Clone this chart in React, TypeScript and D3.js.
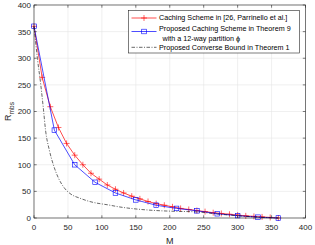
import React from 'react';
import * as d3 from 'd3';

const W = 315, H = 245;
const M = { top: 5, right: 9.5, bottom: 27, left: 34 };

const X_TICKS = [0, 50, 100, 150, 200, 250, 300, 350, 400];
const Y_TICKS = [0, 50, 100, 150, 200, 250, 300, 350, 400];

// Caching Scheme in [26, Parrinello et al.]
const redM = [0, 12, 24, 36, 48, 60, 72, 84, 96, 108, 120, 132, 144, 156, 168, 180, 192, 204, 216, 228, 240, 252, 264, 276, 288, 300, 312, 324, 336, 348, 360];
const redR = [360, 264, 209, 170, 140, 118, 100, 84, 73, 62, 54, 47, 41, 36, 31, 27, 24, 21, 18, 16, 14, 12, 10, 8.5, 7, 5.5, 4, 3, 2, 1, 0];

// Proposed Caching Scheme in Theorem 9
const blueM = [0, 30, 60, 90, 120, 150, 180, 210, 240, 270, 300, 330, 360];
const blueR = [360, 165, 100, 67, 47, 34, 24, 18, 13.5, 8, 4.5, 1.5, 0];

// Proposed Converse Bound in Theorem 1
const blackM = [0, 5, 10, 14, 17, 22.5, 28.5, 36, 45, 53, 68, 82, 112, 125, 146, 180, 210, 240, 270, 300, 330, 360];
const blackR = [360, 300, 250, 203, 165, 128, 100, 75, 56, 46, 37, 31, 24, 21, 17.5, 14, 12.5, 11.5, 7.5, 4.3, 1.5, 0];

const LEGEND = [
  'Caching Scheme in [26, Parrinello et al.]',
  'Proposed Caching Scheme in Theorem 9',
  ' with a 12-way partition \u03d5',
  'Proposed Converse Bound in Theorem 1',
];
const LEGEND_Y = [20.3, 30.5, 40.5, 50];

const FONT = '"Liberation Sans", Arial, Helvetica, sans-serif';
const AX = '#262626';

export default function App() {
  const x = d3.scaleLinear().domain([0, 400]).range([M.left, W - M.right]);
  const y = d3.scaleLinear().domain([0, 400]).range([H - M.bottom, M.top]);
  const zip = (a: number[], b: number[]) => a.map((v, i) => [v, b[i]] as [number, number]);
  const line = d3.line<[number, number]>().x(d => x(d[0])).y(d => y(d[1]));
  const smooth = d3.line<[number, number]>().x(d => x(d[0])).y(d => y(d[1])).curve(d3.curveMonotoneX);
  const red = zip(redM, redR), blue = zip(blueM, blueR), black = zip(blackM, blackR);
  const x0 = x(0), x1 = x(400), y0 = y(0), y1 = y(400);
  const tk = 2.7;

  return (
    <svg width={W} height={H} style={{ position: 'absolute', left: 0, top: 0, background: '#fff' }} fontFamily={FONT}>
      <rect x={0} y={0} width={W} height={H} fill="#fff" />
      {X_TICKS.map(t => <line key={'gx' + t} x1={x(t)} x2={x(t)} y1={y0} y2={y1} stroke="#e6e6e6" strokeWidth={0.6} />)}
      {Y_TICKS.map(t => <line key={'gy' + t} x1={x0} x2={x1} y1={y(t)} y2={y(t)} stroke="#e6e6e6" strokeWidth={0.6} />)}

      <path d={line(red) || ''} fill="none" stroke="#ff0000" strokeWidth={0.7} />
      {red.map((d, i) => (
        <g key={'r' + i} stroke="#ff0000" strokeWidth={0.6}>
          <line x1={x(d[0]) - 3} x2={x(d[0]) + 3} y1={y(d[1])} y2={y(d[1])} />
          <line x1={x(d[0])} x2={x(d[0])} y1={y(d[1]) - 3} y2={y(d[1]) + 3} />
        </g>
      ))}
      <path d={line(blue) || ''} fill="none" stroke="#0000ff" strokeWidth={0.7} />
      {blue.map((d, i) => (
        <rect key={'b' + i} x={x(d[0]) - 2.3} y={y(d[1]) - 2.3} width={4.6} height={4.6} fill="none" stroke="#0000ff" strokeWidth={0.6} />
      ))}
      <path d={smooth(black) || ''} fill="none" stroke="#000" strokeWidth={0.6} strokeDasharray="3.5,1.5,1,1.5" />

      <rect x={x0} y={y1} width={x1 - x0} height={y0 - y1} fill="none" stroke={AX} strokeWidth={0.6} />
      {X_TICKS.map(t => (
        <g key={'tx' + t}>
          <line x1={x(t)} x2={x(t)} y1={y0} y2={y0 - tk} stroke={AX} strokeWidth={0.6} />
          <line x1={x(t)} x2={x(t)} y1={y1} y2={y1 + tk} stroke={AX} strokeWidth={0.6} />
          <text x={x(t)} y={y0 + 12} fontSize={8} fill={AX} textAnchor="middle">{t}</text>
        </g>
      ))}
      {Y_TICKS.map(t => (
        <g key={'ty' + t}>
          <line x1={x0} x2={x0 + tk} y1={y(t)} y2={y(t)} stroke={AX} strokeWidth={0.6} />
          <line x1={x1} x2={x1 - tk} y1={y(t)} y2={y(t)} stroke={AX} strokeWidth={0.6} />
          <text x={x0 - 3} y={y(t) + 2.9} fontSize={8} fill={AX} textAnchor="end">{t}</text>
        </g>
      ))}
      <text x={(x0 + x1) / 2} y={244} fontSize={9} fill={AX} textAnchor="middle">M</text>
      <text transform={`translate(11,${(y0 + y1) / 2}) rotate(-90)`} fontSize={9} fill={AX} textAnchor="middle">
        R<tspan fontSize={6.5} dy={2.5}>mbs</tspan>
      </text>

      <g>
        <rect x={128.5} y={10.5} width={171} height={42.5} fill="#fff" stroke={AX} strokeWidth={0.6} />
        <line x1={131.5} x2={156.5} y1={18} y2={18} stroke="#ff0000" strokeWidth={0.7} />
        <line x1={144} x2={144} y1={15} y2={21} stroke="#ff0000" strokeWidth={0.6} />
        <line x1={141} x2={147} y1={18} y2={18} stroke="#ff0000" strokeWidth={0.6} />
        <line x1={131.5} x2={156.5} y1={31.5} y2={31.5} stroke="#0000ff" strokeWidth={0.7} />
        <rect x={141.7} y={29.2} width={4.6} height={4.6} fill="none" stroke="#0000ff" strokeWidth={0.6} />
        <line x1={131.5} x2={156.5} y1={47.3} y2={47.3} stroke="#000" strokeWidth={0.6} strokeDasharray="3.5,1.5,1,1.5" />
        {LEGEND.map((s, i) => (
          <text key={s} x={i === 2 ? 160.5 : 159} y={LEGEND_Y[i]} fontSize={7.2} fill="#000" style={{ whiteSpace: 'pre' }}>
            {s}
          </text>
        ))}
      </g>
    </svg>
  );
}
